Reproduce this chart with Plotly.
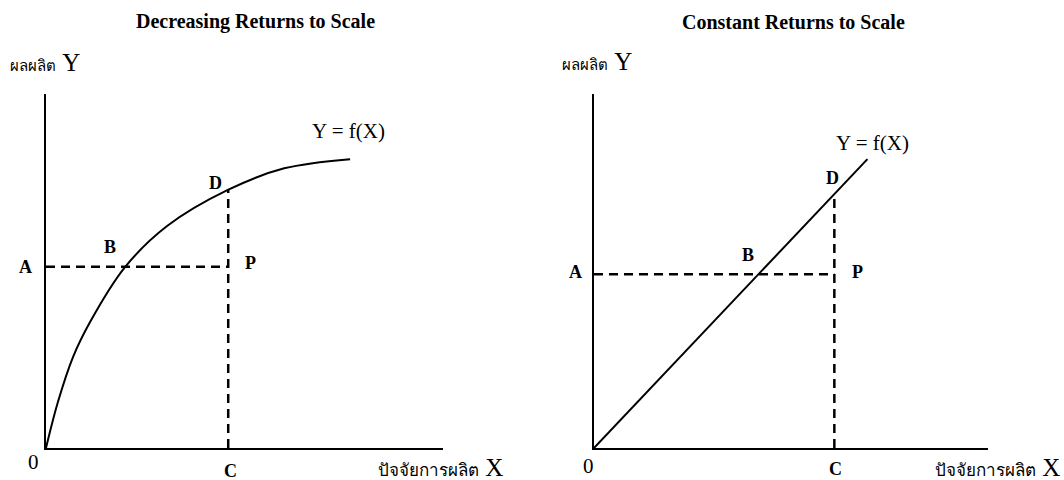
import plotly.graph_objects as go
from plotly.subplots import make_subplots

# decreasing returns: production curve
dec_x = [0, 0.3, 0.68, 1.11, 1.99, 3.05, 4.58, 6.0, 7.66]
dec_y = [0, 1.3, 2.57, 3.56, 5.11, 6.27, 7.29, 7.9, 8.16]
dec_C = 4.59
dec_A = 5.12
dec_D = 7.30

# constant returns: straight line
con_x = [0, 6.94]
con_y = [0, 8.16]
con_C = 6.10
con_A = 4.91
con_D = 7.17

titles = ["Decreasing Returns to Scale", "Constant Returns to Scale"]

W, H = 1064, 480
SERIF = "Liberation Serif, Times New Roman, serif"

fig = make_subplots(rows=1, cols=2)

line = dict(color="black", width=2)
dash = dict(color="black", width=2.5, dash="9px,6px")

fig.add_trace(go.Scatter(x=dec_x, y=dec_y, mode="lines",
                         line=dict(color="black", width=2, shape="spline", smoothing=1)), 1, 1)
fig.add_trace(go.Scatter(x=[0, dec_C], y=[dec_A, dec_A], mode="lines", line=dash), 1, 1)
fig.add_trace(go.Scatter(x=[dec_C, dec_C], y=[0, dec_D], mode="lines", line=dash), 1, 1)

fig.add_trace(go.Scatter(x=con_x, y=con_y, mode="lines", line=line), 1, 2)
fig.add_trace(go.Scatter(x=[0, con_C], y=[con_A, con_A], mode="lines", line=dash), 1, 2)
fig.add_trace(go.Scatter(x=[con_C, con_C], y=[0, con_D], mode="lines", line=dash), 1, 2)

ax = dict(range=[0, 10], showgrid=False, zeroline=False, showticklabels=False,
          ticks="", showline=True, linecolor="black", linewidth=2, fixedrange=True)
fig.update_xaxes(**ax)
fig.update_yaxes(**ax)
fig.update_layout(
    xaxis=dict(domain=[46 / W, 443 / W]),
    xaxis2=dict(domain=[594 / W, 988 / W]),
    yaxis=dict(domain=[(H - 448) / H, (H - 94) / H]),
    yaxis2=dict(domain=[(H - 448) / H, (H - 94) / H]),
)


def lab(text, px, py, size=18, bold=True):
    # position given in page pixels
    fig.add_annotation(text=f"<b>{text}</b>" if bold else text,
                       x=px / W, y=1 - py / H, xref="paper", yref="paper",
                       xanchor="center", yanchor="middle", showarrow=False,
                       font=dict(family=SERIF, size=size, color="black"))


# left panel labels
lab("A", 25, 267)
lab("B", 110, 247)
lab("D", 215, 183)
lab("P", 250, 263)
lab("C", 230, 471)
lab("0", 33, 462, size=21, bold=False)
lab("Y = f(X)", 348, 131, size=21, bold=False)

# right panel labels
lab("A", 575, 272)
lab("B", 748, 255)
lab("D", 832, 178)
lab("P", 857, 272)
lab("C", 835, 469)
lab("0", 588, 466, size=21, bold=False)
lab("Y = f(X)", 872, 143, size=21, bold=False)

# titles and axis names
lab(titles[0], 255, 22, size=20)
lab(titles[1], 793, 22, size=20)
ylab = "<span style='font-size:15px'>ผลผลิต</span> Y"
xlab = "<span style='font-size:17px'>ปัจจัยการผลิต</span> X"
lab(ylab, 45, 63, size=25, bold=False)
lab(ylab, 597, 62, size=25, bold=False)
lab(xlab, 440, 467, size=25, bold=False)
lab(xlab, 997, 467, size=25, bold=False)

fig.update_layout(width=W, height=H, margin=dict(l=0, r=0, t=0, b=0),
                  showlegend=False, plot_bgcolor="white", paper_bgcolor="white")

fig.write_html("out.html", config={"displayModeBar": False},
               post_script="document.body.style.margin='0';")
